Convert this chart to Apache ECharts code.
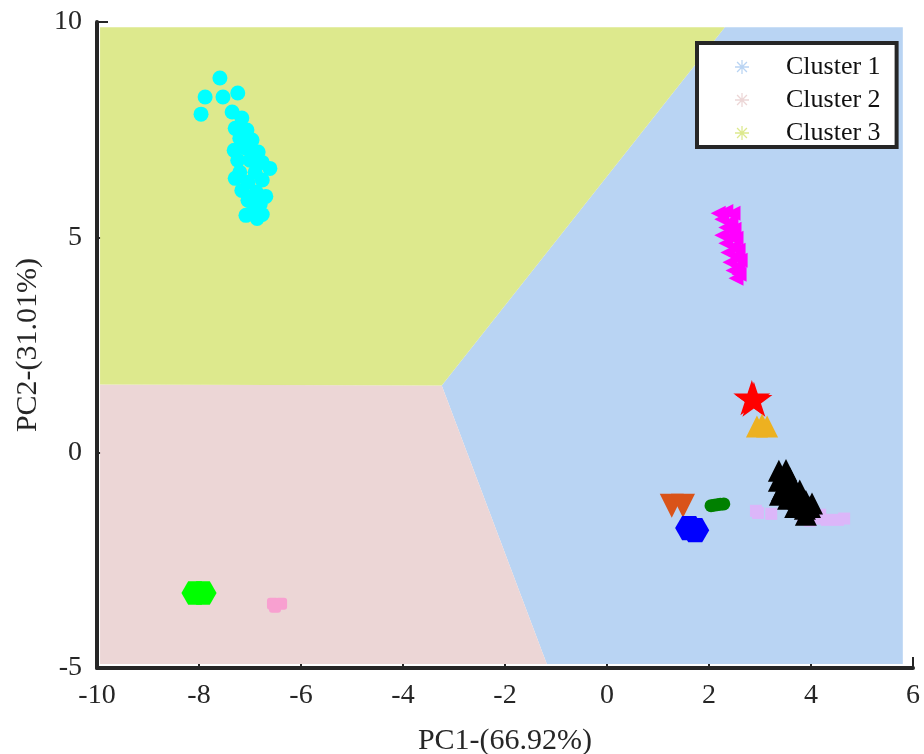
<!DOCTYPE html>
<html><head><meta charset="utf-8">
<script src="https://cdn.jsdelivr.net/npm/echarts@6/dist/echarts.min.js"></script>
<style>html,body{margin:0;padding:0;background:#fff}#c{width:924px;height:754px}</style>
</head><body><div id="c"></div>
<script>
// ---- data ----
const clusterNames = ['Cluster 1', 'Cluster 2', 'Cluster 3'];
const xTicks = [-10, -8, -6, -4, -2, 0, 2, 4, 6];
const yTicks = [-5, 0, 5, 10];
const xTitle = 'PC1-(66.92%)';
const yTitle = 'PC2-(31.01%)';

// decision regions (polygon vertices)
const regionCluster1 = [[-3.24, 1.56], [2.31, 9.88], [5.80, 9.88], [5.80, -4.91], [-1.18, -4.91]];
const regionCluster2 = [[-9.94, 1.58], [-3.24, 1.56], [-1.18, -4.91], [-9.94, -4.91]];
const regionCluster3 = [[-9.94, 9.88], [2.31, 9.88], [-3.24, 1.56], [-9.94, 1.58]];

// sample points
const cyanPts = [[-7.59, 8.70], [-7.88, 8.26], [-7.53, 8.26], [-7.24, 8.35], [-7.96, 7.86], [-7.35, 7.91],
  [-7.16, 7.77], [-7.29, 7.53], [-7.06, 7.49], [-7.20, 7.30], [-6.96, 7.26], [-7.31, 7.02], [-7.08, 7.07],
  [-6.84, 6.98], [-7.24, 6.79], [-7.00, 6.79], [-6.76, 6.74], [-6.61, 6.60], [-7.20, 6.51], [-6.90, 6.51],
  [-7.29, 6.37], [-7.04, 6.28], [-6.76, 6.33], [-7.16, 6.09], [-6.88, 6.05], [-6.69, 5.95], [-7.04, 5.86],
  [-6.80, 5.77], [-6.96, 5.58], [-6.76, 5.53], [-7.08, 5.51], [-6.86, 5.44]];
const magentaPts = [[2.18, 5.56], [2.33, 5.60], [2.47, 5.56], [2.25, 5.42], [2.43, 5.37], [2.33, 5.23],
  [2.49, 5.19], [2.25, 5.05], [2.41, 5.02], [2.53, 4.98], [2.33, 4.86], [2.49, 4.79], [2.57, 4.70],
  [2.37, 4.65], [2.53, 4.56], [2.61, 4.47], [2.41, 4.42], [2.57, 4.33], [2.47, 4.23], [2.59, 4.14], [2.53, 4.05]];
const redPts = [[2.84, 1.28], [2.88, 1.24]];
const orangePts = [[2.94, 0.61], [3.14, 0.61], [3.04, 0.65]];
const blackPts = [[3.37, -0.42], [3.51, -0.40], [3.37, -0.65], [3.59, -0.60], [3.43, -0.88], [3.65, -0.84],
  [3.78, -0.88], [3.55, -1.07], [3.75, -1.07], [3.90, -1.12], [3.69, -1.26], [3.88, -1.30], [3.98, -1.26],
  [4.02, -1.18], [3.90, -1.44], [3.39, -0.98]];
const lavenderPts = [[2.92, -1.35], [2.96, -1.40], [3.22, -1.42], [3.84, -1.49], [4.08, -1.53], [4.31, -1.56],
  [4.53, -1.56], [4.65, -1.53], [4.18, -1.44], [3.98, -1.58]];
const darkGreenPts = [[2.04, -1.23], [2.10, -1.22], [2.16, -1.21], [2.22, -1.20], [2.29, -1.19]];
const vermilionPts = [[1.27, -1.23], [1.49, -1.23]];
const bluePts = [[1.61, -1.75], [1.73, -1.80]];
const limePts = [[-8.08, -3.26], [-7.92, -3.26]];
const pinkPts = [[-6.55, -3.51], [-6.39, -3.51], [-6.51, -3.58]];

// ---- symbols ----
const asterisk = 'path://M0,9.1L20,9.1L20,10.9L0,10.9Z M9.1,0L10.9,0L10.9,20L9.1,20Z M2.3,3.6L3.6,2.3L17.7,16.4L16.4,17.7Z M16.4,2.3L17.7,3.6L3.6,17.7L2.3,16.4Z';
const star = 'path://M50,0L61.23,34.55L97.55,34.55L68.17,55.9L79.39,90.45L50,69.1L20.61,90.45L31.83,55.9L2.45,34.55L38.77,34.55Z';
const hexagon = 'path://M25,0L75,0L100,43.3L75,86.6L25,86.6L0,43.3Z';

const serif = 'Liberation Serif';

function regionSeries(name, verts, color) {
  return {
    name: name, type: 'custom', coordinateSystem: 'cartesian2d', z: 1,
    itemStyle: { color: color }, silent: true,
    data: verts,
    renderItem: function (params, api) {
      if (params.dataIndex !== 0) return;
      const pts = verts.map(function (p) { return api.coord(p); });
      return { type: 'polygon', shape: { points: pts }, style: { fill: color } };
    }
  };
}
function scatter(name, data, color, symbol, size, rotate) {
  return {
    name: name, type: 'scatter', data: data, symbol: symbol, symbolSize: size,
    symbolRotate: rotate || 0, symbolKeepAspect: true, z: 3, silent: true,
    itemStyle: { color: color, opacity: 1 }
  };
}

const chart = echarts.init(document.getElementById('c'), null, { renderer: 'canvas' });
chart.setOption({
  animation: false,
  backgroundColor: '#ffffff',
  grid: { left: 97, right: 11, top: 22, bottom: 86, containLabel: false, outerBoundsMode: 'none' },
  xAxis: {
    type: 'value', min: xTicks[0], max: xTicks[xTicks.length - 1], interval: 2,
    name: xTitle, nameLocation: 'middle', nameGap: 58,
    nameTextStyle: { fontFamily: serif, fontSize: 30, color: '#262626' },
    axisLine: { show: true, onZero: false, lineStyle: { color: '#262626', width: 4 } },
    axisTick: { show: true, inside: true, length: 11, lineStyle: { color: '#262626', width: 2 } },
    axisLabel: { fontFamily: serif, fontSize: 28, color: '#262626', margin: 14 },
    splitLine: { show: false }
  },
  yAxis: {
    type: 'value', min: yTicks[0], max: yTicks[yTicks.length - 1], interval: 5,
    name: yTitle, nameLocation: 'middle', nameGap: 52,
    nameTextStyle: { fontFamily: serif, fontSize: 30, color: '#262626' },
    axisLine: { show: true, onZero: false, lineStyle: { color: '#262626', width: 4 } },
    axisTick: { show: true, inside: true, length: 11, lineStyle: { color: '#262626', width: 2 } },
    axisLabel: { fontFamily: serif, fontSize: 28, color: '#262626', margin: 15 },
    splitLine: { show: false }
  },
  legend: {
    orient: 'vertical', left: 697, top: 43,
    padding: [11, 16, 1, 38],
    itemWidth: 78, itemHeight: 14, itemGap: 7,
    backgroundColor: '#ffffff', borderColor: '#262626', borderWidth: 4,
    selectedMode: false,
    textStyle: { fontFamily: serif, fontSize: 26, color: '#111', lineHeight: 26 },
    data: clusterNames.map(function (n) { return { name: n, icon: asterisk }; })
  },
  series: [
    regionSeries(clusterNames[0], regionCluster1, '#b9d4f3'),
    regionSeries(clusterNames[1], regionCluster2, '#ecd6d6'),
    regionSeries(clusterNames[2], regionCluster3, '#dde98d'),
    scatter('c_cyan', cyanPts, '#00ffff', 'circle', 15),
    scatter('c_magenta', magentaPts, '#ff00ff', 'triangle', 15, 90),
    scatter('c_red', redPts, '#ff0000', star, 37),
    scatter('c_orange', orangePts, '#edb120', 'triangle', 22),
    scatter('c_lavender', lavenderPts, '#dcb6f9', 'rect', 12),
    scatter('c_black', blackPts, '#000000', 'triangle', 22),
    scatter('c_darkgreen', darkGreenPts, '#008000', 'circle', 13),
    scatter('c_vermilion', vermilionPts, '#d95319', 'triangle', 24, 180),
    scatter('c_blue', bluePts, '#0000ff', hexagon, 28),
    scatter('c_lime', limePts, '#00ff00', hexagon, 27),
    scatter('c_pink', pinkPts, '#f8a0d0', 'roundRect', 12)
  ]
});
</script></body></html>
